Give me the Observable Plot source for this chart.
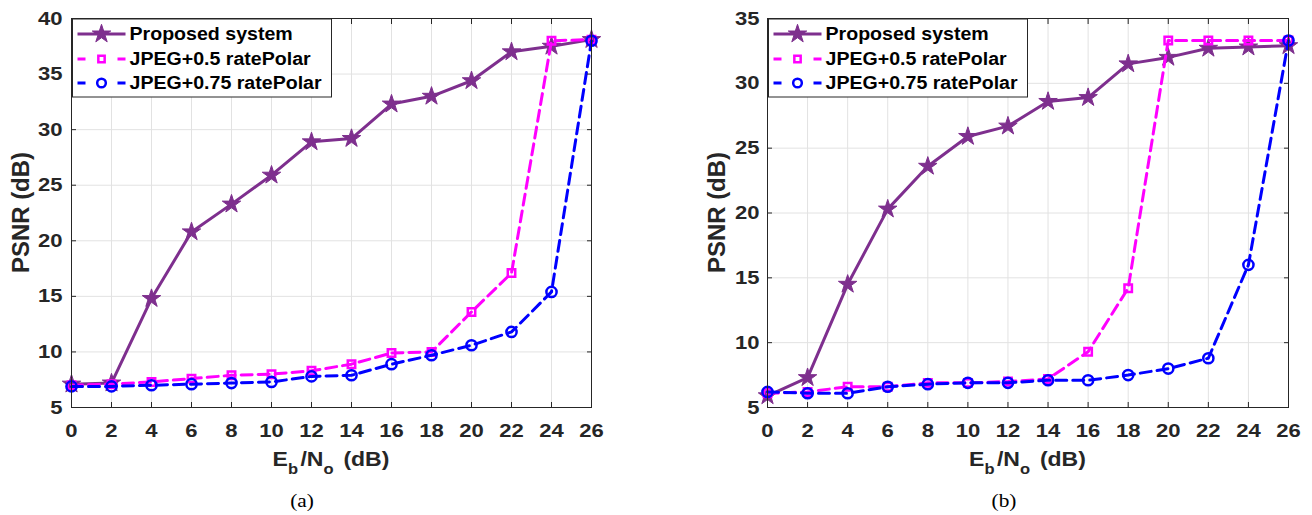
<!DOCTYPE html>
<html>
<head>
<meta charset="utf-8">
<script src="https://cdn.jsdelivr.net/npm/d3@7"></script>
<script src="https://cdn.jsdelivr.net/npm/@observablehq/plot@0.6"></script>
<style>
  html, body { margin: 0; padding: 0; background: #fff; }
  body { width: 1312px; height: 515px; position: relative; overflow: hidden; font-family: "Liberation Sans", Arial, Helvetica, sans-serif; }
  .panel { position: absolute; top: 0; }
  .cap { position: absolute; top: 491px; width: 80px; text-align: center; font-family: "Liberation Serif", "Times New Roman", serif; font-size: 19px; line-height: 20px; color: #000; transform: scaleX(1.12); }
</style>
</head>
<body>
<div id="pa" class="panel" style="left:0px"></div>
<div id="pb" class="panel" style="left:650px"></div>
<div class="cap" style="left:262px">(a)</div>
<div class="cap" style="left:964px">(b)</div>
<script>
// ---------------- data ----------------
const EBNO = [0, 2, 4, 6, 8, 10, 12, 14, 16, 18, 20, 22, 24, 26];
const X_TICKS = [0, 2, 4, 6, 8, 10, 12, 14, 16, 18, 20, 22, 24, 26];
const SERIES = ["Proposed system", "JPEG+0.5 ratePolar", "JPEG+0.75 ratePolar"];

// panel (a)
const A_PROPOSED = [7.1, 7.2, 14.8, 20.8, 23.3, 25.9, 28.9, 29.2, 32.3, 33.0, 34.4, 37.0, 37.5, 38.1];
const A_POLAR05  = [7.0, 7.1, 7.3, 7.6, 7.9, 8.0, 8.3, 8.9, 9.9, 10.0, 13.6, 17.1, 38.0, 38.1];
const A_POLAR075 = [6.9, 6.9, 7.0, 7.1, 7.2, 7.3, 7.8, 7.9, 8.9, 9.7, 10.6, 11.8, 15.4, 38.0];
const A_Y_TICKS = [5, 10, 15, 20, 25, 30, 35, 40];

// panel (b)
const B_PROPOSED = [5.9, 7.3, 14.5, 20.3, 23.6, 25.9, 26.7, 28.6, 28.9, 31.5, 32.0, 32.7, 32.8, 32.9];
const B_POLAR05  = [6.1, 6.2, 6.6, 6.6, 6.9, 6.9, 7.0, 7.2, 9.3, 14.2, 33.3, 33.3, 33.3, 33.3];
const B_POLAR075 = [6.2, 6.1, 6.1, 6.6, 6.8, 6.9, 6.9, 7.1, 7.1, 7.5, 8.0, 8.8, 16.0, 33.3];
const B_Y_TICKS = [5, 10, 15, 20, 25, 30, 35];

// ---------------- styles ----------------
const COLORS = ["#7E2F8E", "#FF00FF", "#0000FF"];
const DASHES = [null, "11,6", "11,6"];
const SYMBOLS = ["star", "square", "circle"];
const RADII = [5.8, 4.2, 5.1];
const FONT = "'Liberation Sans', Arial, Helvetica, sans-serif";
const INK = "#262626";
const GRID = "#e2e2e2";

function drawPanel(el, cfg) {
  const {width, marginLeft, marginRight, yDomain, yTicks, values, tickPad} = cfg;
  const height = 480, marginTop = 18, marginBottom = 73;
  const rows = [];
  values.forEach((vals, s) => vals.forEach((v, i) => rows.push({x: EBNO[i], y: v, s})));

  const marks = [
    Plot.gridX(X_TICKS, {stroke: GRID, strokeOpacity: 1, strokeWidth: 1}),
    Plot.gridY(yTicks, {stroke: GRID, strokeOpacity: 1, strokeWidth: 1})
  ];
  SERIES.forEach((name, s) => {
    const d = rows.filter(r => r.s === s);
    const lineOpts = {x: "x", y: "y", stroke: COLORS[s], strokeWidth: 3};
    if (DASHES[s]) lineOpts.strokeDasharray = DASHES[s];
    marks.push(Plot.line(d, lineOpts));
    marks.push(Plot.dot(d, {
      x: "x", y: "y", symbol: SYMBOLS[s], r: RADII[s],
      stroke: COLORS[s], fill: s === 0 ? COLORS[0] : "none",
      strokeWidth: s === 0 ? 1 : 2.5
    }));
  });
  marks.push(
    Plot.axisX(X_TICKS, {anchor: "bottom", tickSize: 0, tickPadding: 16, label: null, fill: INK}),
    Plot.axisY(yTicks, {anchor: "left", tickSize: 0, tickPadding: tickPad, label: null, fill: INK}),
    Plot.axisX(X_TICKS, {anchor: "bottom", tickSize: 5, dy: -5, fill: "none", label: null, stroke: INK}),
    Plot.axisX(X_TICKS, {anchor: "top", tickSize: 5, dy: 5, fill: "none", label: null, stroke: INK}),
    Plot.axisY(yTicks, {anchor: "left", tickSize: 5, dx: 5, fill: "none", label: null, stroke: INK}),
    Plot.axisY(yTicks, {anchor: "right", tickSize: 5, dx: -5, fill: "none", label: null, stroke: INK}),
    Plot.frame({stroke: INK, strokeWidth: 1})
  );

  const plot = Plot.plot({
    width, height, marginLeft, marginRight, marginTop, marginBottom,
    x: {domain: [0, 26]},
    y: {domain: yDomain},
    style: {fontFamily: FONT, fontSize: "19px", fontWeight: "bold", color: INK, background: "#fff"},
    marks
  });
  el.appendChild(plot);

  const svg = d3.select(plot);
  // widen tick labels like the reference
  svg.selectAll('g[aria-label*="tick label"] text').each(function () {
    const t = this.getAttribute("transform") || "";
    this.setAttribute("transform", t + " scale(1.16,1)");
  });

  const x = plot.scale("x"), y = plot.scale("y");
  const left = x.range[0], right = x.range[1];
  const top = Math.min(...y.range), bottom = Math.max(...y.range);

  // x label with subscripts
  const xl = svg.append("text")
    .attr("transform", `translate(${(left + right) / 2},${bottom + 59}) scale(1.18,1)`)
    .attr("text-anchor", "middle")
    .attr("font-family", FONT).attr("font-weight", "bold").attr("font-size", 19.5)
    .attr("fill", INK);
  xl.append("tspan").text("E");
  xl.append("tspan").attr("dy", 8).attr("font-size", 14).text("b");
  xl.append("tspan").attr("dy", -8).attr("dx", 2).text("/N");
  xl.append("tspan").attr("dy", 8).attr("font-size", 14).text("o");
  xl.append("tspan").attr("dy", -8).attr("dx", 3).text(" (dB)");

  // y label
  svg.append("text")
    .attr("transform", `translate(${left - 42},${(top + bottom) / 2}) rotate(-90) scale(1.04,1)`)
    .attr("text-anchor", "middle")
    .attr("font-family", FONT).attr("font-weight", "bold").attr("font-size", 23)
    .attr("fill", INK)
    .text("PSNR (dB)");

  // legend
  const lx = left + 1.5, ly = top + 1, lw = 259, lh = 78;
  const lg = svg.append("g");
  lg.append("rect").attr("x", lx).attr("y", ly).attr("width", lw).attr("height", lh)
    .attr("fill", "#fff").attr("stroke", INK).attr("stroke-width", 1);
  const rowsY = [15, 40, 64];
  SERIES.forEach((name, s) => {
    const cy = ly + rowsY[s];
    const ln = lg.append("line").attr("x1", lx + 5).attr("x2", lx + 53).attr("y1", cy).attr("y2", cy)
      .attr("stroke", COLORS[s]).attr("stroke-width", 3);
    if (s > 0) ln.attr("stroke-dasharray", "8,32");
    const cx = lx + 29;
    const sym = {star: d3.symbolStar, square: d3.symbolSquare, circle: d3.symbolCircle}[SYMBOLS[s]];
    const rr = s === 0 ? RADII[s] : RADII[s] * 0.85;
    lg.append("path")
      .attr("d", d3.symbol(sym, Math.PI * rr * rr)())
      .attr("transform", `translate(${cx},${cy})`)
      .attr("fill", s === 0 ? COLORS[0] : "none")
      .attr("stroke", COLORS[s]).attr("stroke-width", s === 0 ? 1 : 2.5);
    lg.append("text")
      .attr("transform", `translate(${lx + 57},${cy}) scale(1.12,1)`)
      .attr("dy", "0.36em")
      .attr("text-anchor", "start")
      .attr("font-family", FONT).attr("font-weight", "bold").attr("font-size", 17.5)
      .attr("fill", "#000")
      .text(name);
  });
}

drawPanel(document.getElementById("pa"), {
  width: 650, marginLeft: 71, marginRight: 59,
  yDomain: [5, 40], yTicks: A_Y_TICKS, tickPad: 9,
  values: [A_PROPOSED, A_POLAR05, A_POLAR075]
});
drawPanel(document.getElementById("pb"), {
  width: 662, marginLeft: 117, marginRight: 24,
  yDomain: [5, 35], yTicks: B_Y_TICKS, tickPad: 8,
  values: [B_PROPOSED, B_POLAR05, B_POLAR075]
});
</script>
</body>
</html>
